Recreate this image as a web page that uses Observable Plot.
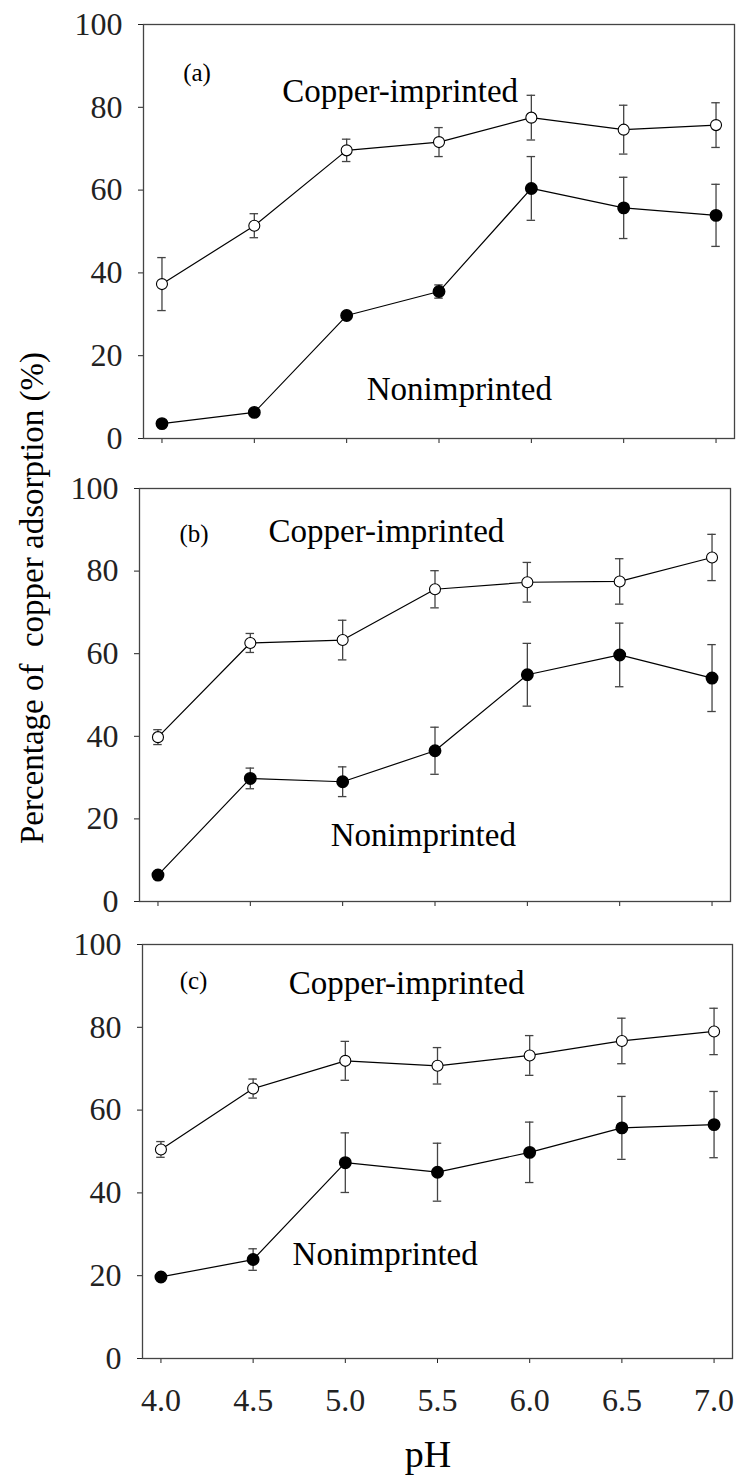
<!DOCTYPE html>
<html><head><meta charset="utf-8">
<script src="https://cdn.jsdelivr.net/npm/d3@7"></script>
<script src="https://cdn.jsdelivr.net/npm/@observablehq/plot@0.6"></script>
<style>
body{margin:0;background:#fff;}
#wrap{position:relative;width:738px;height:1475px;overflow:hidden;background:#fff;}
#wrap > svg{position:absolute;left:0;}
</style></head><body><div id="wrap"></div>
<script>
// ---- data ----
const pH = [4.0, 4.5, 5.0, 5.5, 6.0, 6.5, 7.0];
const xTicks = [4.0, 4.5, 5.0, 5.5, 6.0, 6.5, 7.0];
const yTicks = [0, 20, 40, 60, 80, 100];
const panelLabels = ["(a)", "(b)", "(c)"];
const seriesNames = ["Copper-imprinted", "Nonimprinted"];

const impA    = [37.3, 51.4, 69.6, 71.6, 77.5, 74.6, 75.7];
const impAErr = [6.4, 2.9, 2.7, 3.5, 5.4, 5.9, 5.4];
const nonA    = [3.6, 6.3, 29.7, 35.5, 60.4, 55.7, 53.9];
const nonAErr = [0, 0, 0, 1.6, 7.7, 7.4, 7.5];

const impB    = [39.8, 62.6, 63.3, 75.6, 77.3, 77.5, 83.3];
const impBErr = [1.8, 2.3, 4.8, 4.5, 4.8, 5.5, 5.6];
const nonB    = [6.4, 29.8, 29.0, 36.5, 54.9, 59.7, 54.1];
const nonBErr = [0, 2.5, 3.6, 5.7, 7.6, 7.7, 8.1];

const impC    = [50.5, 65.2, 71.9, 70.7, 73.2, 76.7, 79.0];
const impCErr = [1.9, 2.3, 4.7, 4.4, 4.8, 5.5, 5.6];
const nonC    = [19.7, 23.9, 47.3, 45.0, 49.8, 55.7, 56.5];
const nonCErr = [0, 2.6, 7.2, 7.0, 7.3, 7.6, 8.0];

const axisTitleY = "Percentage of  copper adsorption (%)";
const axisTitleX = "pH";

// ---- layout ----
const FONT = '"Liberation Serif", "Times New Roman", serif';
const xDomain = [3.9, 7.1];
const capHalf = 0.023;

const panels = [
  {label: panelLabels[0], imp: impA, impErr: impAErr, non: nonA, nonErr: nonAErr,
   top: 0, height: 450, mt: 24, mb: 12, ml: 143, mr: 4, tickLabels: false,
   pos: {lab: [4.19, 88.2], imp: [5.29, 83.9], non: [5.61, 11.8]}},
  {label: panelLabels[1], imp: impB, impErr: impBErr, non: nonB, nonErr: nonBErr,
   top: 464, height: 449, mt: 24, mb: 12, ml: 139, mr: 8, tickLabels: false,
   pos: {lab: [4.195, 89.1], imp: [5.237, 89.6], non: [5.437, 16.1]}},
  {label: panelLabels[2], imp: impC, impErr: impCErr, non: nonC, nonErr: nonCErr,
   top: 920, height: 498, mt: 24, mb: 60, ml: 142, mr: 6, tickLabels: true,
   pos: {lab: [4.177, 91.1], imp: [5.332, 90.5], non: [5.216, 25.1]}}
];

const wrap = document.getElementById("wrap");

for (const p of panels) {
  const rows = [];
  pH.forEach((x, i) => {
    rows.push({series: seriesNames[0], x, y: p.imp[i], e: p.impErr[i]});
    rows.push({series: seriesNames[1], x, y: p.non[i], e: p.nonErr[i]});
  });
  const err = rows.filter(d => d.e > 0).map(d => ({
    x: d.x, xl: d.x - capHalf, xr: d.x + capHalf, lo: d.y - d.e, hi: d.y + d.e
  }));
  const imp = rows.filter(d => d.series === seriesNames[0]);
  const non = rows.filter(d => d.series === seriesNames[1]);
  const notes = [
    {x: p.pos.lab[0], y: p.pos.lab[1], t: p.label, s: 25},
    {x: p.pos.imp[0], y: p.pos.imp[1], t: seriesNames[0], s: 33},
    {x: p.pos.non[0], y: p.pos.non[1], t: seriesNames[1], s: 33}
  ];
  const chart = Plot.plot({
    width: 738, height: p.height,
    marginTop: p.mt, marginBottom: p.mb, marginLeft: p.ml, marginRight: p.mr,
    style: {fontFamily: FONT, fontSize: "32px", color: "#222", background: "transparent", overflow: "visible"},
    x: {domain: xDomain, ticks: xTicks, tickSize: 5, tickPadding: 25,
        tickFormat: p.tickLabels ? (d => d.toFixed(1)) : (() => ""), label: null},
    y: {domain: [0, 100], ticks: yTicks, tickSize: 5, tickPadding: 16, label: null},
    marks: [
      Plot.frame({stroke: "#444", strokeWidth: 1.3}),
      Plot.ruleX(err, {x: "x", y1: "lo", y2: "hi", stroke: "#444", strokeWidth: 1.3}),
      Plot.ruleY(err, {y: "lo", x1: "xl", x2: "xr", stroke: "#444", strokeWidth: 1.3}),
      Plot.ruleY(err, {y: "hi", x1: "xl", x2: "xr", stroke: "#444", strokeWidth: 1.3}),
      Plot.line(imp, {x: "x", y: "y", stroke: "black", strokeWidth: 1.2}),
      Plot.line(non, {x: "x", y: "y", stroke: "black", strokeWidth: 1.2}),
      Plot.dot(imp, {x: "x", y: "y", r: 5.5, fill: "white", stroke: "black", strokeWidth: 1.1}),
      Plot.dot(non, {x: "x", y: "y", r: 5.7, fill: "black", stroke: "black"}),
      Plot.text(notes, {x: "x", y: "y", text: "t", fontSize: "s", fill: "black", textAnchor: "middle", fontFamily: FONT})
    ]
  });
  chart.style.top = p.top + "px";
  wrap.appendChild(chart);
}

// axis titles overlay
const ns = "http://www.w3.org/2000/svg";
const ov = document.createElementNS(ns, "svg");
ov.setAttribute("width", 738); ov.setAttribute("height", 1475);
ov.style.top = "0px"; ov.style.pointerEvents = "none";
const ty = document.createElementNS(ns, "text");
ty.setAttribute("transform", "translate(43,598) rotate(-90)");
ty.setAttribute("text-anchor", "middle");
ty.setAttribute("font-family", FONT); ty.setAttribute("font-size", "33");
ty.setAttribute("xml:space", "preserve"); ty.style.whiteSpace = "pre";
ty.textContent = axisTitleY;
const tx = document.createElementNS(ns, "text");
tx.setAttribute("x", 428); tx.setAttribute("y", 1467);
tx.setAttribute("text-anchor", "middle");
tx.setAttribute("font-family", FONT); tx.setAttribute("font-size", "38");
tx.textContent = axisTitleX;
ov.appendChild(ty); ov.appendChild(tx);
wrap.appendChild(ov);
</script></body></html>
